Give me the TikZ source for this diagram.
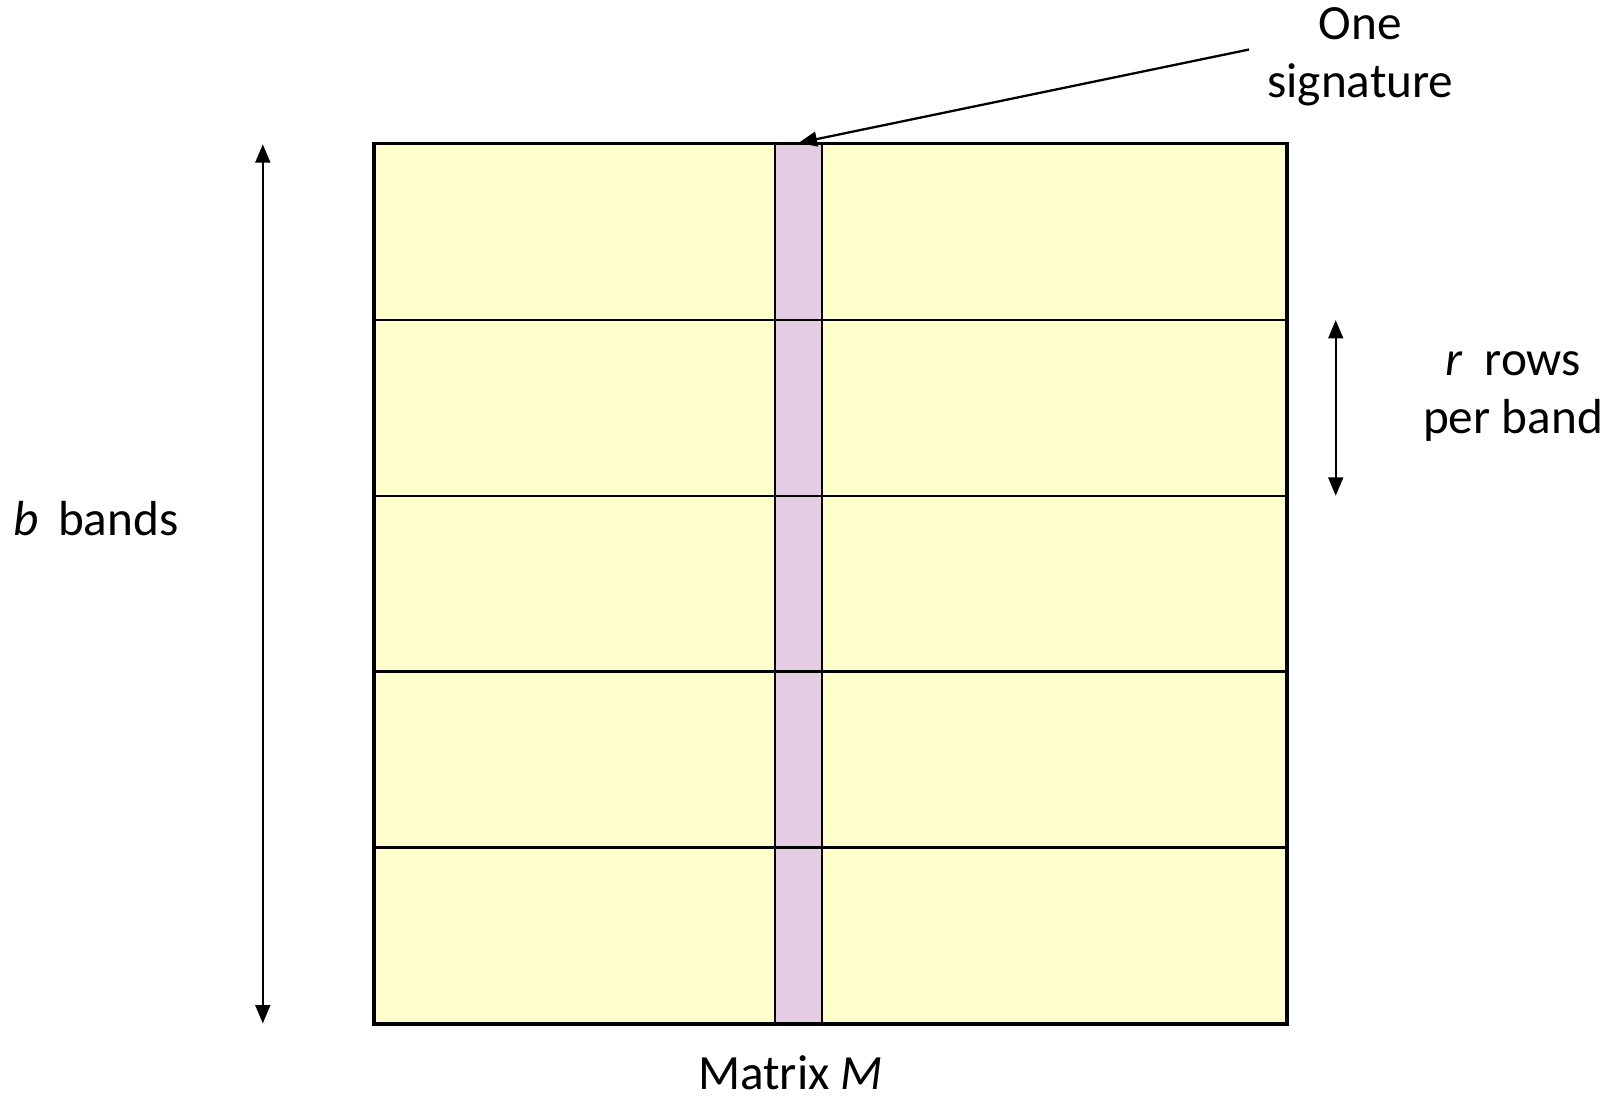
\documentclass[tikz,border=0pt]{standalone}
\usepackage{fontspec}
\setmainfont{Carlito}
\usetikzlibrary{arrows.meta}
\definecolor{bandyellow}{RGB}{255,255,204}
\definecolor{siglilac}{RGB}{228,204,228}
\begin{document}
\begin{tikzpicture}[x=0.01cm,y=-0.01cm]
    \tikzstyle{every node}=[align=center, font=\fontsize{14}{16.6}\selectfont];
    \tikzstyle{matrixbox} = [draw, line width=0.7pt, fill=bandyellow, minimum width=9.11cm, minimum height=8.79cm, inner sep=0pt]
    \tikzstyle{sigcol} = [draw, line width=0.7pt, fill=siglilac, minimum width=0.47cm, minimum height=8.79cm, inner sep=0pt]
    \tikzstyle{flow} = [-{Triangle[length=5.2pt, width=4.2pt]}, line width=0.65pt]
    \tikzstyle{dim} = [{Triangle[length=5.2pt, width=4.2pt]}-{Triangle[length=5.2pt, width=4.2pt]}, line width=0.65pt]

    \useasboundingbox (0,0) rectangle (1616,1099);

    \node[matrixbox] (M) at (830.6,583.8) {};
    \node[sigcol] (Sig) at (798.7,583.8) {};

    % band borders
    \foreach \i in {1,...,4}
        \draw[line width=0.7pt] (375.1,{144.3+175.8*\i}) -- (1286.2,{144.3+175.8*\i});
    \draw[line width=0.7pt] (M.north west) rectangle (M.south east);

    \node (Sign) at (1360.4,56.5) {One \\ signature};
    \node (Rows) at (1513,396.5) {\textit{r}\ \ rows \\ per band};
    \node (Bands) at (96,518.5) {\textit{b}\ \,bands};
    \node[inner sep=0pt] (Label) at (790.5,1073) {Matrix \textit{M}};

    \coordinate (SigTail) at (1249,49.5);
    \coordinate (BTop) at (262.8,144.3);
    \coordinate (BBot) at (262.8,1023.4);
    \coordinate (RTop) at (1335.7,320.1);
    \coordinate (RBot) at (1335.7,495.7);

    \draw[flow] (SigTail) -- (Sig.north);
    \draw[dim] (BTop) -- (BBot);
    \draw[dim] (RTop) -- (RBot);

\end{tikzpicture}
\end{document}
